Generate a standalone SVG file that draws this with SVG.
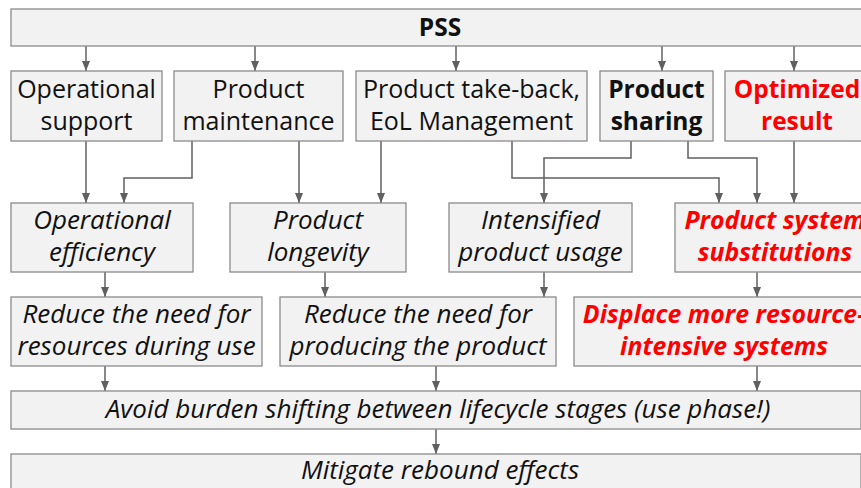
<svg xmlns="http://www.w3.org/2000/svg" width="861" height="488" viewBox="0 0 861 488">
<style>
.box{fill:#f2f2f2;stroke:#8a8a8a;stroke-width:1.3}
.t{font-family:"Open Sans","Noto Sans",sans-serif;font-size:25px;fill:#111;text-anchor:middle}
.i{font-style:italic;font-size:26px}
.b{font-weight:bold;font-size:24.5px}
.i.b{font-size:24.8px}
.r{fill:#ff0000}
.c{fill:none;stroke:#606060;stroke-width:1.5}
</style>
<defs>
<marker id="ah" markerUnits="userSpaceOnUse" markerWidth="10" markerHeight="10" viewBox="0 0 10 10" refX="10" refY="5" orient="auto">
<path d="M0,1 L10,5 L0,9 Z" fill="#606060"/>
</marker>
</defs>
<g id="connectors">
<path class="c" marker-end="url(#ah)" d="M86,46 V71"/>
<path class="c" marker-end="url(#ah)" d="M255,46 V71"/>
<path class="c" marker-end="url(#ah)" d="M456,46 V71"/>
<path class="c" marker-end="url(#ah)" d="M662,46 V71"/>
<path class="c" marker-end="url(#ah)" d="M794,46 V71"/>
<path class="c" marker-end="url(#ah)" d="M86,141 V203"/>
<path class="c" marker-end="url(#ah)" d="M192,141 V178 H124 V203"/>
<path class="c" marker-end="url(#ah)" d="M299,141 V203"/>
<path class="c" marker-end="url(#ah)" d="M381,141 V203"/>
<path class="c" marker-end="url(#ah)" d="M512,141 V178 H719 V203"/>
<path class="c" marker-end="url(#ah)" d="M631,141 V158 H544 V203"/>
<path class="c" marker-end="url(#ah)" d="M688,141 V158 H757 V203"/>
<path class="c" marker-end="url(#ah)" d="M794,141 V203"/>
<path class="c" marker-end="url(#ah)" d="M105,272 V297"/>
<path class="c" marker-end="url(#ah)" d="M325,272 V297"/>
<path class="c" marker-end="url(#ah)" d="M544,272 V297"/>
<path class="c" marker-end="url(#ah)" d="M757,272 V297"/>
<path class="c" marker-end="url(#ah)" d="M105,366 V391"/>
<path class="c" marker-end="url(#ah)" d="M436,366 V391"/>
<path class="c" marker-end="url(#ah)" d="M757,366 V391"/>
<path class="c" marker-end="url(#ah)" d="M436,429 V454"/>
</g>
<g id="pss">
<rect class="box" x="11" y="9" width="870" height="37"/>
<text class="t b" x="440" y="36">PSS</text>
</g>
<g id="operational-support">
<rect class="box" x="11" y="71" width="151" height="70"/>
<text class="t" x="86.5" y="98">Operational</text>
<text class="t" x="86.5" y="130">support</text>
</g>
<g id="product-maintenance">
<rect class="box" x="174" y="71" width="169" height="70"/>
<text class="t" x="258.5" y="98">Product</text>
<text class="t" x="258.5" y="130">maintenance</text>
</g>
<g id="product-takeback">
<rect class="box" x="356" y="71" width="231" height="70"/>
<text class="t" x="471.5" y="98">Product take-back,</text>
<text class="t" x="471.5" y="130">EoL Management</text>
</g>
<g id="product-sharing">
<rect class="box" x="600" y="71" width="113" height="70"/>
<text class="t b" x="656.5" y="98">Product</text>
<text class="t b" x="656.5" y="130">sharing</text>
</g>
<g id="optimized-result">
<rect class="box" x="725" y="71" width="150" height="70"/>
<text class="t b r" x="797" y="98">Optimized</text>
<text class="t b r" x="797" y="130">result</text>
</g>
<g id="operational-efficiency">
<rect class="box" x="11" y="203" width="182" height="69"/>
<text class="t i" x="102" y="229">Operational</text>
<text class="t i" x="102" y="261">efficiency</text>
</g>
<g id="product-longevity">
<rect class="box" x="230" y="203" width="176" height="69"/>
<text class="t i" x="318" y="229">Product</text>
<text class="t i" x="318" y="261">longevity</text>
</g>
<g id="intensified-usage">
<rect class="box" x="449" y="203" width="183" height="69"/>
<text class="t i" x="540.5" y="229">Intensified</text>
<text class="t i" x="540.5" y="261">product usage</text>
</g>
<g id="product-system-substitutions">
<rect class="box" x="675" y="203" width="200" height="69"/>
<text class="t i b r" x="775" y="229">Product system</text>
<text class="t i b r" x="775" y="261">substitutions</text>
</g>
<g id="reduce-use">
<rect class="box" x="11" y="297" width="251" height="69"/>
<text class="t i" x="136.5" y="323">Reduce the need for</text>
<text class="t i" x="136.5" y="355">resources during use</text>
</g>
<g id="reduce-producing">
<rect class="box" x="280" y="297" width="276" height="69"/>
<text class="t i" x="418" y="323">Reduce the need for</text>
<text class="t i" x="418" y="355">producing the product</text>
</g>
<g id="displace">
<rect class="box" x="574" y="297" width="300" height="69"/>
<text class="t i b r" x="724" y="323">Displace more resource-</text>
<text class="t i b r" x="724" y="355">intensive systems</text>
</g>
<g id="avoid-burden">
<rect class="box" x="11" y="391" width="850" height="38"/>
<text class="t i" x="438" y="418">Avoid burden shifting between lifecycle stages (use phase!)</text>
</g>
<g id="mitigate">
<rect class="box" x="11" y="454" width="850" height="50"/>
<text class="t i" x="440" y="479">Mitigate rebound effects</text>
</g>
</svg>
